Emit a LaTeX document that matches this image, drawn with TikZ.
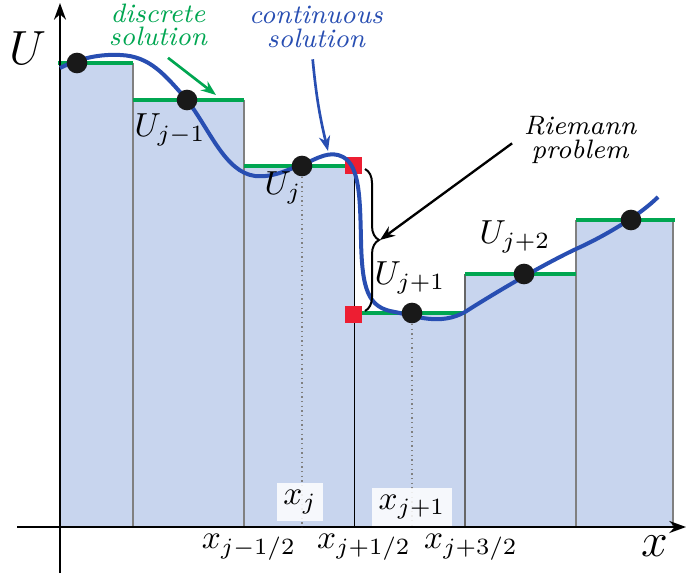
\documentclass[tikz,border=0pt]{standalone}
\usepackage{amsmath,amssymb}
\usepackage{xcolor}
\usepackage{tikz}
\usetikzlibrary{arrows.meta,decorations.pathreplacing}

\definecolor{cellblue}{RGB}{200,213,238}
\definecolor{discgreen}{RGB}{0,166,81}
\definecolor{contblue}{RGB}{40,78,178}
\definecolor{jumpred}{RGB}{237,30,50}

\tikzset{
  avgline/.style={discgreen, line width=1.1pt},
  edgeline/.style={gray, line width=0.35pt},
  dot/.style={circle, fill=black!90, inner sep=0pt, minimum size=6.2pt},
  jumpbox/.style={rectangle, fill=jumpred, inner sep=0pt, minimum size=5.1pt},
  note/.style={font=\footnotesize\itshape, align=center},
  tagbox/.style={fill=white, fill opacity=0.85, text opacity=1, inner sep=2pt},
  tip/.style={-{Stealth[length=4.5pt,width=3.4pt]}},
}

\begin{document}
\begin{tikzpicture}[x=0.3pt, y=-0.3pt]
\useasboundingbox (0,0) rectangle (686,579);
% cells
\fill[cellblue] (60,527) rectangle (133,63);
\fill[cellblue] (133,527) rectangle (244,100);
\fill[cellblue] (244,527) rectangle (354,166);
\fill[cellblue] (354,527) rectangle (465,313);
\fill[cellblue] (465,527) rectangle (576,274);
\fill[cellblue] (576,527) rectangle (673,220);
\draw[edgeline] (133,63) -- (133,527);
\draw[edgeline] (244,100) -- (244,527);
\draw[black, line width=0.3pt] (354,166) -- (354,527);
\draw[edgeline, black!60] (465,274) -- (465,527);
\draw[edgeline] (576,220) -- (576,527);
\draw[edgeline] (673,220) -- (673,527);
% cell averages
\draw[avgline] (58,63) -- (133,63);
\draw[avgline] (133,100) -- (244,100);
\draw[avgline] (244,166) -- (354,166);
\draw[avgline] (354,313) -- (465,313);
\draw[avgline] (465,274) -- (576,274);
\draw[avgline] (576,220) -- (675,220);
% axes
\draw[line width=0.7pt, -{Stealth[length=5pt,width=3.6pt]}] (60,573) -- (60,3);
\draw[line width=0.7pt, -{Stealth[length=5pt,width=3.6pt]}] (17,527) -- (686,527);
\node[font=\Large] (ulab) at (28,48) {$U$};
\node[font=\Large] (xlab) at (655,546) {$x$};
% interface states
\node[jumpbox] (ql) at (353,166) {};
\node[jumpbox] (qr) at (353,315) {};
% continuous solution
\draw[contblue, line width=1.2pt] (60,68)
  .. controls (80,58) and (100,54) .. (120,55)
  .. controls (150,56) and (165,75) .. (187,100)
  .. controls (210,130) and (225,172) .. (255,176)
  .. controls (275,178) and (290,168) .. (302,165)
  .. controls (318,158) and (330,150) .. (343,157)
  .. controls (360,166) and (360,200) .. (361,240)
  .. controls (362,290) and (368,308) .. (395,312)
  .. controls (415,316) and (440,326) .. (465,312)
  .. controls (490,296) and (540,266) .. (576,249)
  .. controls (605,236) and (640,215) .. (658,197);
% cell centres
\node[dot] (d1) at (77,63) {};
\node[dot] (d2) at (187,100) {};
\node[dot] (d3) at (302,166) {};
\node[dot] (d4) at (412,313) {};
\node[dot] (d5) at (524,274) {};
\node[dot] (d6) at (631,220) {};
\coordinate (b3) at (302,527);
\coordinate (b4) at (412,527);
\draw[gray, densely dotted, line width=0.4pt] (d3) -- (b3);
\draw[gray, densely dotted, line width=0.4pt] (d4) -- (b4);
% labels
\node (u1) at (170,130) {$U_{j-1}$};
\node (u2) at (283,188) {$U_j$};
\node (u3) at (410,278) {$U_{j+1}$};
\node (u4) at (515,237) {$U_{j+2}$};
\node[tagbox] (xc1) at (300,502) {$x_j$};
\node[tagbox] (xc2) at (412,507) {$x_{j+1}$};
\node (xf1) at (249,547) {$x_{j-1/2}$};
\node (xf2) at (364,547) {$x_{j+1/2}$};
\node (xf3) at (471,547) {$x_{j+3/2}$};
% Riemann problem
\draw[decorate, decoration={brace, amplitude=4.2pt}, line width=0.6pt]
  (365,169) -- (365,311);
\coordinate (btip) at (380,240);
% notes
\node[note, discgreen] (disc) at (158,25) {discrete\\[-2.5pt] solution};
\node[note, contblue] (cont) at (316,27) {continuous\\[-2.5pt] solution};
\node[note, black] (riem) at (580,140) {Riemann\\[-2.5pt] problem};
\coordinate (dtip) at (216,95);
\coordinate (ctip) at (328,151);
\draw[tip, discgreen, line width=0.8pt] ([xshift=3pt]disc.south) -- (dtip);
\draw[tip, contblue, line width=0.8pt] ([xshift=-1pt]cont.south) to[bend right=4] (ctip);
\draw[tip, black, line width=0.7pt] ([yshift=-1pt]riem.west) -- (btip);
\end{tikzpicture}
\end{document}
